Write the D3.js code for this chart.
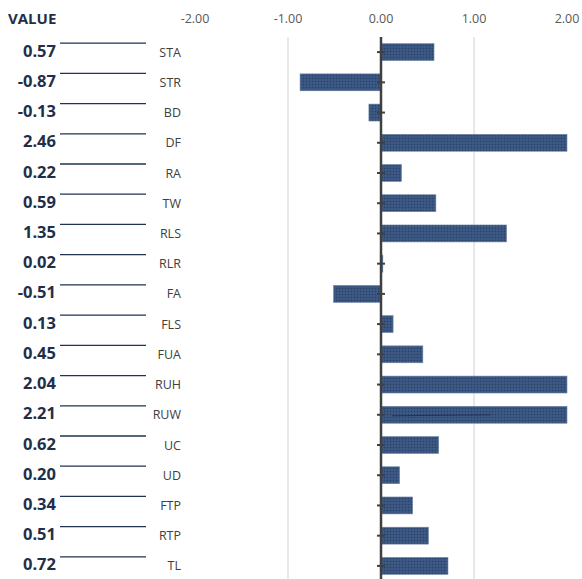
<!DOCTYPE html>
<html>
<head>
<meta charset="utf-8">
<script src="https://cdn.jsdelivr.net/npm/d3@7"></script>
<style>
  body { margin: 0; background: #fff; }
  svg { display: block; }
</style>
</head>
<body>
<div id="graphArea"></div>
<script>
var categories = ["STA", "STR", "BD", "DF", "RA", "TW", "RLS", "RLR", "FA", "FLS", "FUA", "RUH", "RUW", "UC", "UD", "FTP", "RTP", "TL"]
var values = [0.57, -0.87, -0.13, 2.46, 0.22, 0.59, 1.35, 0.02, -0.51, 0.13, 0.45, 2.04, 2.21, 0.62, 0.20, 0.34, 0.51, 0.72]
var xTicks = [-2, -1, 0, 1, 2]

var width = 582
var height = 579

// plain hyphen minus like the original
var fmt = function(v) { return d3.format(".2f")(v).replace("\u2212", "-") }

var svg = d3.select("#graphArea")
  .append("svg")
  .attr("width", width)
  .attr("height", height)
  .style("font-family", '"Open Sans", sans-serif')

// dotted texture on the bars
var pat = svg.append("defs")
  .append("pattern")
  .attr("id", "dots")
  .attr("width", 3)
  .attr("height", 3)
  .attr("patternUnits", "userSpaceOnUse")
pat.append("rect").attr("width", 3).attr("height", 3).attr("fill", "#385480")
pat.append("rect").attr("width", 1).attr("height", 1).attr("fill", "#27405f")
pat.append("rect").attr("x", 1.5).attr("y", 1.5).attr("width", 1).attr("height", 1).attr("fill", "#48658e")

var x = d3.scaleLinear()
  .domain([-2, 2])
  .range([195, 567])

var y = d3.scaleBand()
  .domain(categories)
  .range([37, 581])
  .paddingInner(0.44)
  .paddingOuter(0.22)

var rowMid = function(d) { return y(d) + y.bandwidth() / 2 }

// header
svg.append("text")
  .attr("x", 8)
  .attr("y", 24)
  .attr("font-size", 15)
  .attr("font-weight", "bold")
  .attr("fill", "#1f2f4a")
  .text("VALUE")

svg.selectAll(".xlab")
  .data(xTicks)
  .enter()
  .append("text")
  .attr("x", function(d) { return x(d) })
  .attr("y", 23)
  .attr("text-anchor", "middle")
  .attr("font-size", 12.5)
  .attr("fill", "#595959")
  .text(fmt)

// gridlines
svg.selectAll(".grid")
  .data([-1, 1])
  .enter()
  .append("line")
  .attr("x1", function(d) { return x(d) })
  .attr("x2", function(d) { return x(d) })
  .attr("y1", 37)
  .attr("y2", height)
  .attr("stroke", "#d9d9d9")
  .attr("stroke-width", 1.2)

// bars, clipped at the axis max
svg.selectAll(".bar")
  .data(categories)
  .enter()
  .append("rect")
  .attr("x", function(d, i) { return x(Math.min(0, values[i])) })
  .attr("y", function(d) { return y(d) })
  .attr("width", function(d, i) {
    var v = Math.max(-2, Math.min(2, values[i]))
    return Math.abs(x(v) - x(0))
  })
  .attr("height", y.bandwidth())
  .attr("fill", "url(#dots)")
  .attr("stroke", "#6f86a6")
  .attr("stroke-width", 0.6)

// thin stray line inside RUW bar
svg.append("line")
  .attr("x1", x(0.12))
  .attr("x2", x(1.18))
  .attr("y1", rowMid("RUW") + 1)
  .attr("y2", rowMid("RUW"))
  .attr("stroke", "#1f3358")
  .attr("stroke-width", 1)

// zero axis with row ticks
svg.append("line")
  .attr("x1", x(0))
  .attr("x2", x(0))
  .attr("y1", 37)
  .attr("y2", height)
  .attr("stroke", "#404040")
  .attr("stroke-width", 2.5)

svg.selectAll(".tick")
  .data(categories)
  .enter()
  .append("line")
  .attr("x1", x(0) - 4)
  .attr("x2", x(0) + 4)
  .attr("y1", rowMid)
  .attr("y2", rowMid)
  .attr("stroke", "#404040")
  .attr("stroke-width", 2)

// category labels
svg.selectAll(".cat")
  .data(categories)
  .enter()
  .append("text")
  .attr("x", 181)
  .attr("y", function(d) { return rowMid(d) + 4.5 })
  .attr("text-anchor", "end")
  .attr("font-size", 12.5)
  .attr("fill", "#404040")
  .text(function(d) { return d })

// left value column
svg.selectAll(".rule")
  .data(categories)
  .enter()
  .append("line")
  .attr("x1", 60)
  .attr("x2", 146)
  .attr("y1", function(d) { return rowMid(d) - 9 })
  .attr("y2", function(d) { return rowMid(d) - 9 })
  .attr("stroke", "#1f3354")
  .attr("stroke-width", 1.3)

svg.selectAll(".val")
  .data(categories)
  .enter()
  .append("text")
  .attr("x", 56)
  .attr("y", function(d) { return rowMid(d) + 4.5 })
  .attr("text-anchor", "end")
  .attr("font-size", 16.5)
  .attr("font-weight", "bold")
  .attr("fill", "#1f2f4a")
  .text(function(d, i) { return fmt(values[i]) })
</script>
</body>
</html>
